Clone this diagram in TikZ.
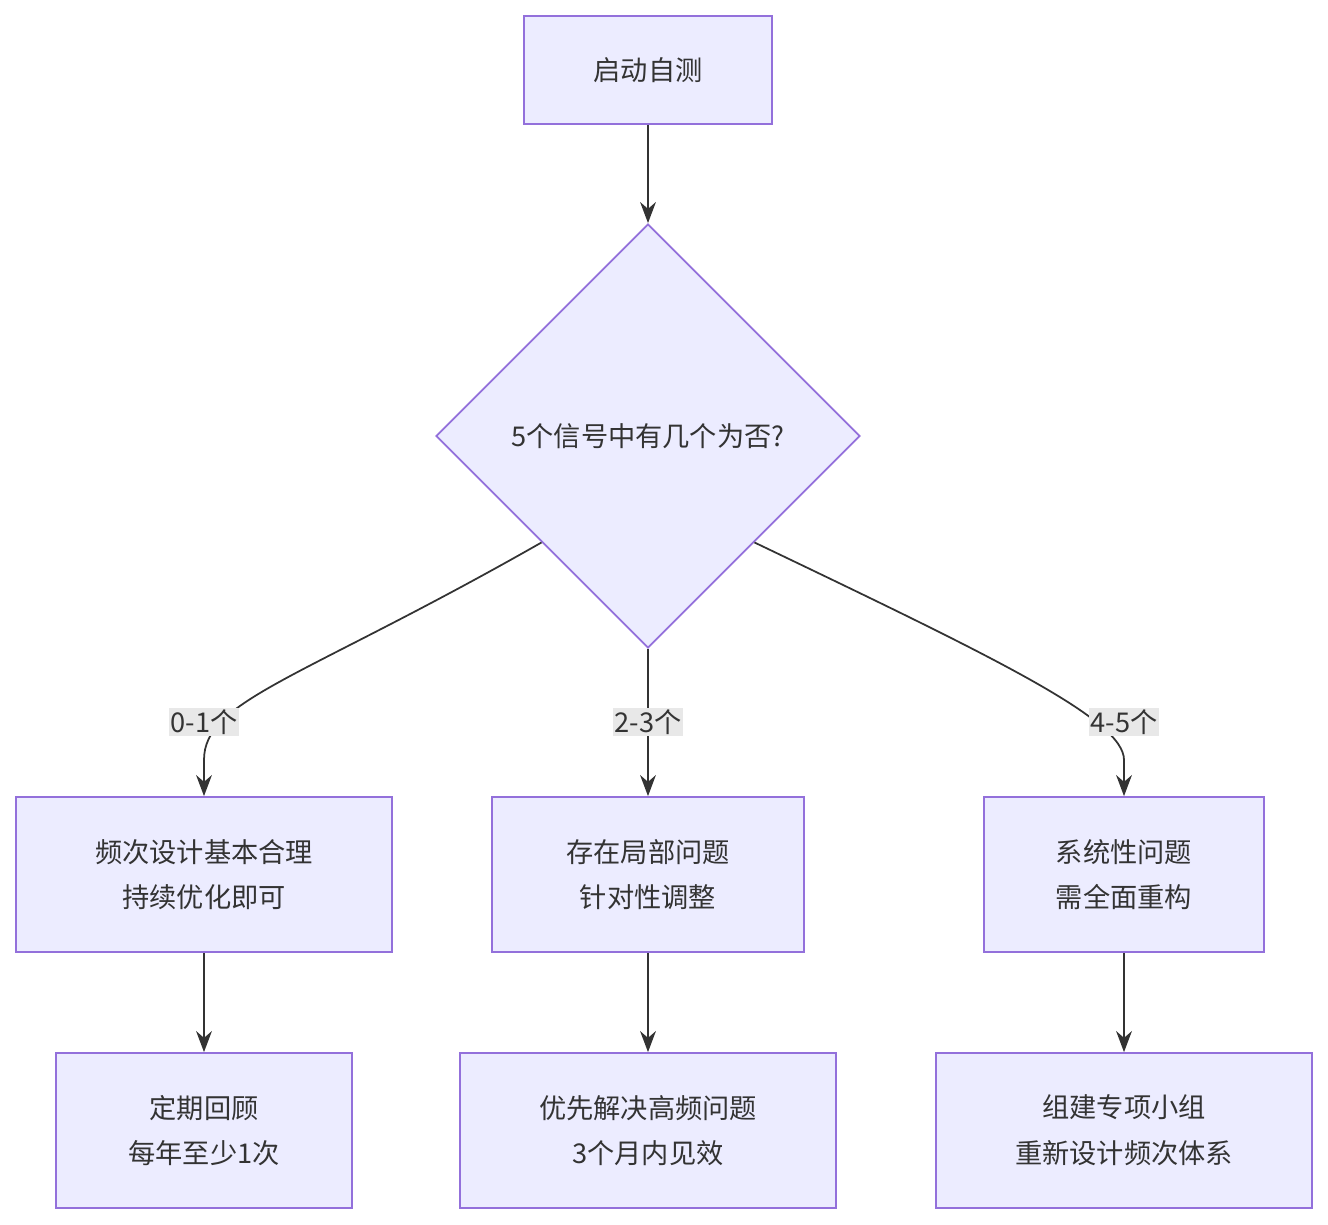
\documentclass[tikz,border=0pt]{standalone}
\usepackage{fontspec}
\setmainfont{Noto Sans CJK SC}
\usetikzlibrary{shapes.geometric,arrows.meta}

\tikzset{
  box/.style={draw=boxline, fill=boxfill, line width=1pt, text=txt, align=center,
              font=\fontsize{15.5}{26}\selectfont, inner sep=0pt},
  arr/.style={draw=txt, line width=1pt, -{Stealth[length=12pt,width=9pt]}},
  lbl/.style={fill=lblfill, text=txt, font=\fontsize{15.5}{18}\selectfont, inner sep=1pt}
}
\definecolor{boxfill}{HTML}{ECECFF}
\definecolor{boxline}{HTML}{9370DB}
\definecolor{txt}{HTML}{333333}
\definecolor{lblfill}{HTML}{E8E8E8}

\begin{document}
\begin{tikzpicture}[x=0.02cm,y=-0.02cm]
  \useasboundingbox (0,0) rectangle (1328,1224);

  % top and decision
  \node[box, minimum width=248*0.02cm, minimum height=108*0.02cm] (start) at (648,70) {启动自测};
  \node[box, diamond, minimum size=424*0.02cm] (dec) at (648,436) {5个信号中有几个为否?};

  % middle row
  \node[box, minimum width=376*0.02cm, minimum height=155*0.02cm] (ok) at (204,874.5) {频次设计基本合理\\持续优化即可};
  \node[box, minimum width=312*0.02cm, minimum height=155*0.02cm] (part) at (648,874.5) {存在局部问题\\针对性调整};
  \node[box, minimum width=280*0.02cm, minimum height=155*0.02cm] (sys) at (1124,874.5) {系统性问题\\需全面重构};

  % bottom row
  \node[box, minimum width=296*0.02cm, minimum height=155*0.02cm] (review) at (204,1130.5) {定期回顾\\每年至少1次};
  \node[box, minimum width=376*0.02cm, minimum height=155*0.02cm] (fix) at (648,1130.5) {优先解决高频问题\\3个月内见效};
  \node[box, minimum width=376*0.02cm, minimum height=155*0.02cm] (team) at (1124,1130.5) {组建专项小组\\重新设计频次体系};

  % connectors
  \draw[arr] (start) -- (dec);
  \draw[arr] (dec.south west) .. controls (300,680) and (204,700) .. (204,760) -- (ok.north);
  \draw[arr] (dec) -- (part);
  \draw[arr] (dec.south east) .. controls (1000,660) and (1124,720) .. (1124,760) -- (sys.north);
  \draw[arr] (ok) -- (review);
  \draw[arr] (part) -- (fix);
  \draw[arr] (sys) -- (team);

  \node[lbl] (l1) at (204,722) {0-1个};
  \node[lbl] (l2) at (648,722) {2-3个};
  \node[lbl] (l3) at (1124,722) {4-5个};
\end{tikzpicture}
\end{document}
